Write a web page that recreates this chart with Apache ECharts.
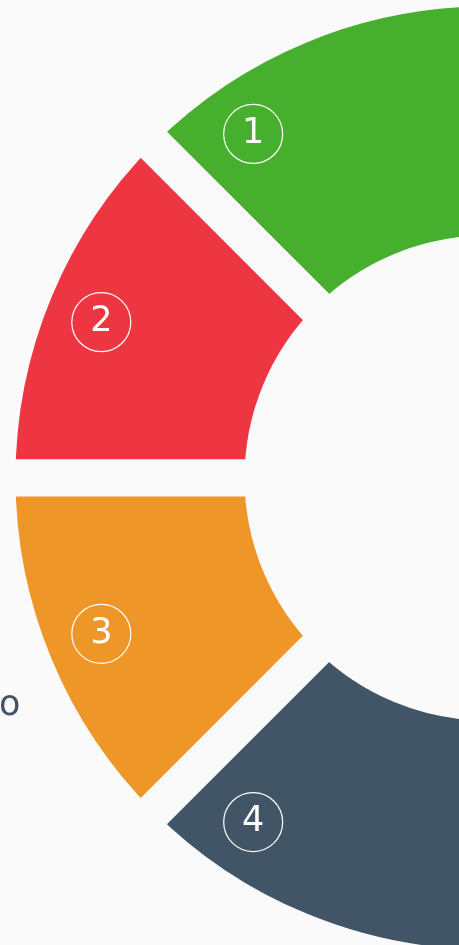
<!DOCTYPE html>
<html>
<head>
<meta charset="utf-8">
<script src="https://cdn.jsdelivr.net/npm/echarts@6/dist/echarts.min.js"></script>
<style>
  html, body { margin: 0; padding: 0; background: #fafafa; }
  #chart { width: 459px; height: 945px; }
</style>
</head>
<body>
<div id="chart"></div>
<script>
// data
const categories = ['1', '2', '3', '4']
const values = [1, 1, 1, 1]
const hiddenRest = 4 // right half, off screen
const colors = ['#46af2e', '#ee3542', '#ee9627', '#425566']
// label badges, polar (angle in degrees, radius in px)
const badgeAngles = [124.2, 158, 202, 235.8]
const badgeRadius = [416, 416, 416, 416]

const bg = '#fafafa'
const center = [487, 478]

const chart = echarts.init(document.getElementById('chart'))

const pieData = categories.map((name, i) => ({
  name: name,
  value: values[i],
  itemStyle: { color: colors[i] },
}))
pieData.push({ name: '', value: hiddenRest, itemStyle: { color: 'transparent' } })

const option = {
  backgroundColor: bg,
  animation: false,
  polar: {
    center: center,
    radius: 500,
  },
  angleAxis: {
    type: 'value',
    min: 0,
    max: 360,
    startAngle: 0,
    clockwise: false,
    show: false,
  },
  radiusAxis: {
    type: 'value',
    min: 0,
    max: 500,
    show: false,
  },
  graphic: [{
    type: 'text',
    left: -1,
    top: 688,
    style: {
      text: 'o',
      fill: '#435565',
      font: '35px "DejaVu Sans"',
    },
  }],
  series: [
    {
      type: 'pie',
      center: center,
      radius: [224, 490],
      startAngle: 90,
      clockwise: false,
      silent: true,
      label: { show: false },
      labelLine: { show: false },
      itemStyle: {
        borderColor: bg,
        borderWidth: 37,
      },
      emphasis: { scale: false },
      data: pieData,
    },
    {
      type: 'scatter',
      coordinateSystem: 'polar',
      symbol: 'circle',
      symbolSize: 59,
      silent: true,
      itemStyle: {
        color: 'transparent',
        borderColor: '#ffffff',
        borderWidth: 1.2,
        opacity: 1,
      },
      label: {
        show: true,
        position: 'inside',
        formatter: p => p.name,
        color: '#ffffff',
        fontSize: 35,
        fontFamily: 'DejaVu Sans',
      },
      data: categories.map((name, i) => ({
        name: name,
        value: [badgeRadius[i], badgeAngles[i]],
      })),
    },
  ],
}
chart.setOption(option)
</script>
</body>
</html>
